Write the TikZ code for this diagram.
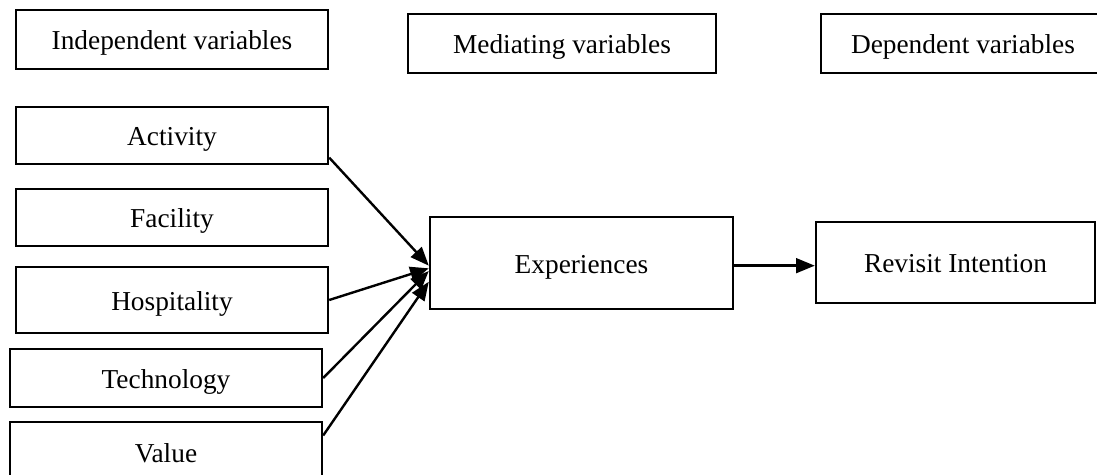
\documentclass[tikz,border=0pt]{standalone}
\usepackage{fontspec}
\setmainfont{Liberation Serif}
\usetikzlibrary{arrows.meta}
\tikzset{
  box/.style={draw, line width=1.8pt, inner sep=0pt, text height=15pt, text depth=0pt},
  link/.style={line width=1.8pt, -{Triangle[length=14pt,width=11pt]}}
}
\begin{document}
\begin{tikzpicture}[x=0.75pt, y=-0.75pt, every node/.style={font=\fontsize{20.5}{24}\selectfont}]
  \useasboundingbox (0,0) rectangle (1097,475);
  \clip (0,0) rectangle (1097,475);
  % headings
  \node[box, minimum width=312*0.75pt, minimum height=59*0.75pt] (indep) at (172,39.5) {Independent variables};
  \node[box, minimum width=308*0.75pt, minimum height=59*0.75pt] (medi) at (562,43.5) {Mediating variables};
  \node[box, minimum width=284*0.75pt, minimum height=59*0.75pt] (dep) at (963,43.5) {Dependent variables};
  % independent variables
  \node[box, minimum width=312*0.75pt, minimum height=57*0.75pt] (act) at (172,135.5) {Activity};
  \node[box, minimum width=312*0.75pt, minimum height=57*0.75pt] (fac) at (172,217.5) {Facility};
  \node[box, minimum width=312*0.75pt, minimum height=66*0.75pt] (hosp) at (172,300) {Hospitality};
  \node[box, minimum width=312*0.75pt, minimum height=58*0.75pt] (tech) at (166,378) {Technology};
  \node[box, minimum width=312*0.75pt, minimum height=60*0.75pt] (val) at (166,452) {Value};
  % mediator and outcome
  \node[box, minimum width=303*0.75pt, minimum height=92*0.75pt] (exp) at (581.5,263) {Experiences};
  \node[box, minimum width=279*0.75pt, minimum height=81*0.75pt] (rev) at (955.5,262.5) {Revisit Intention};
  % paths
  \draw[link] (act.-8) -- (exp.181);
  \draw[link] (hosp.east) -- (exp.182);
  \draw[link] (tech.east) -- (exp.183);
  \draw[link] (val.6) -- (exp.187);
  \draw[link] (exp.-1.5) -- (exp.-1.5 -| rev.west);
\end{tikzpicture}
\end{document}
